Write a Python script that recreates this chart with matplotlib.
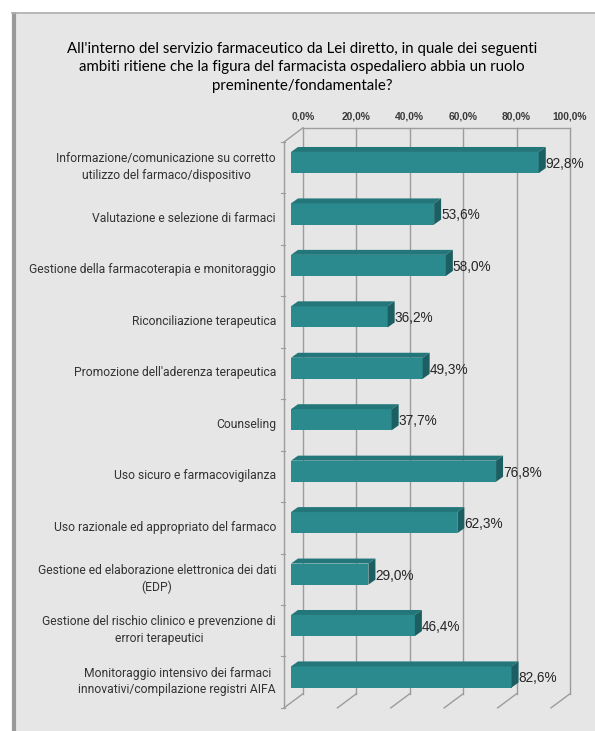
import matplotlib
matplotlib.use("Agg")
import matplotlib.pyplot as plt
from matplotlib.patches import Rectangle, Polygon

categories = [
    "Informazione/comunicazione su corretto\nutilizzo del farmaco/dispositivo",
    "Valutazione e selezione di farmaci",
    "Gestione della farmacoterapia e monitoraggio",
    "Riconciliazione terapeutica",
    "Promozione dell'aderenza terapeutica",
    "Counseling",
    "Uso sicuro e farmacovigilanza",
    "Uso razionale ed appropriato del farmaco",
    "Gestione ed elaborazione elettronica dei dati\n(EDP)",
    "Gestione del rischio clinico e prevenzione di\nerrori terapeutici",
    "Monitoraggio intensivo dei farmaci\ninnovativi/compilazione registri AIFA",
]
values = [92.8, 53.6, 58.0, 36.2, 49.3, 37.7, 76.8, 62.3, 29.0, 46.4, 82.6]
ticks = [0, 20, 40, 60, 80, 100]
tick_labels = ["0,0%", "20,0%", "40,0%", "60,0%", "80,0%", "100,0%"]
title = ("All'interno del servizio farmaceutico da Lei diretto, in quale dei seguenti\n"
         "ambiti ritiene che la figura del farmacista ospedaliero abbia un ruolo\n"
         "preminente/fondamentale?")

W, H, DPI = 595, 731, 100
fig = plt.figure(figsize=(W / DPI, H / DPI), dpi=DPI)
fig.patch.set_facecolor("white")

# grey chart panel with a soft left/top border
panel = fig.add_axes([0, 0, 1, 1], zorder=-10)
panel.set_xlim(0, W)
panel.set_ylim(H, 0)
panel.axis("off")
panel.add_patch(Rectangle((12, 12), W, H, facecolor="#e6e6e6", edgecolor="none"))
panel.plot([14, 14], [12, H], color="#9a9a9a", lw=3.0, solid_capstyle="butt")
panel.plot([12, W], [12.5, 12.5], color="#b0b0b0", lw=1.2)

# axes in the plane of the bars' front faces
ax_left, ax_right = 291, 558
ax_top, ax_bottom = 136.8, 702.7
ax = fig.add_axes([ax_left / W, 1 - ax_bottom / H,
                   (ax_right - ax_left) / W, (ax_bottom - ax_top) / H])
n = len(categories)
ax.set_xlim(0, 100)
ax.set_ylim(n - 0.5, -0.5)
ax.axis("off")

ux = 100 / (ax_right - ax_left)          # data units per pixel (x)
uy = n / (ax_bottom - ax_top)            # data units per pixel (y, downward)


def sh(x, y, dx, dy_up):
    """Shift a data point by a pixel offset (dy_up positive = upwards)."""
    return x + dx * ux, y - dy_up * uy


BACK = (12, 9)      # bar-front plane -> back wall
FRONT = (-7, -5.2)  # bar-front plane -> front edge of the box
DEPTH = (7, 5)      # bar thickness along the depth axis
grid_c = "#9c9c9c"
y0, y1 = -0.5, n - 0.5

# back wall gridlines and top edge
for t in ticks:
    xa, ya = sh(t, y0, *BACK)
    xb, yb = sh(t, y1, *BACK)
    ax.plot([xa, xb], [ya, yb], color=grid_c, lw=1.0, clip_on=False, zorder=1)
    # floor diagonals
    xf, yf = sh(t, y1, *FRONT)
    ax.plot([xb, xf], [yb, yf], color=grid_c, lw=1.0, clip_on=False, zorder=1)
xa, ya = sh(0, y0, *BACK)
xb, yb = sh(100, y0, *BACK)
ax.plot([xa, xb], [ya, yb], color=grid_c, lw=1.0, clip_on=False, zorder=1)

# left wall: front vertical edge and top diagonal
xf0, yf0 = sh(0, y0, *FRONT)
xf1, yf1 = sh(0, y1, *FRONT)
ax.plot([xf0, xf1], [yf0, yf1], color=grid_c, lw=1.0, clip_on=False, zorder=1)
ax.plot([xf0, xa], [yf0, ya], color=grid_c, lw=1.0, clip_on=False, zorder=1)
# category separators on the front edge
for k in range(n + 1):
    xt, yt = sh(0, k - 0.5, *FRONT)
    ax.plot([xt - 3 * ux, xt + 1 * ux], [yt, yt], color=grid_c, lw=0.8,
            clip_on=False, zorder=1)

# tick labels above the back wall
for t, lab in zip(ticks, tick_labels):
    xt, yt = sh(t, y0, BACK[0], BACK[1] + 11)
    ax.text(xt, yt, lab, ha="center", va="center", fontsize=7.4,
            fontweight="bold", color="#3a3a3a", family="Liberation Sans",
            clip_on=False)

# 3D bars
c_front, c_top, c_end = "#2a8a8d", "#23777a", "#1b5f62"
bh = 0.41
for i, v in enumerate(values):
    top, bot = i - bh / 2, i + bh / 2
    ax.add_patch(Rectangle((0, top), v, bh, facecolor=c_front,
                           edgecolor="none", zorder=3))
    p1 = sh(0, top, *DEPTH)
    p2 = sh(v, top, *DEPTH)
    ax.add_patch(Polygon([(0, top), (v, top), p2, p1], closed=True,
                         facecolor=c_top, edgecolor="none", zorder=3))
    p3 = sh(v, bot, *DEPTH)
    ax.add_patch(Polygon([(v, top), p2, p3, (v, bot)], closed=True,
                         facecolor=c_end, edgecolor="none", zorder=3))
    lx, ly = sh(v, i, 7, -1.5)
    ax.text(lx, ly, f"{v:.1f}".replace(".", ",") + "%", ha="left",
            va="center", fontsize=9.8, color="#262626",
            family="Liberation Sans", zorder=4, clip_on=False)

# category labels (right-aligned blocks, lines centred within each block)
for i, lab in enumerate(categories):
    lx, ly = sh(0, i, -15, -4.5)
    ax.text(lx, ly, lab, ha="right", va="center", ma="center",
            fontsize=8.7, color="#333333", linespacing=1.35,
            fontfamily="Roboto", clip_on=False)

fig.text(302 / W, 1 - 67.5 / H, title, ha="center", va="center",
         ma="center", fontsize=10.8, color="#000000", linespacing=1.42,
         fontfamily="Lato")

fig.savefig("out.png", dpi=DPI, facecolor=fig.get_facecolor())
